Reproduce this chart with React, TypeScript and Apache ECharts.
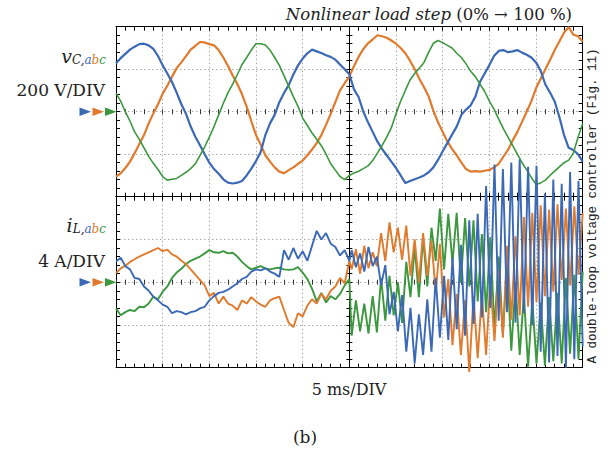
import React, { useEffect, useRef } from "react";
import * as echarts from "echarts";

// ---------- data ----------
// time grid of the voltage traces: 0 .. 50 ms, 0.5 ms steps
const V_STEP_MS = 0.5;
// capacitor voltages, V
const vCa = [228, 252, 272, 292, 306, 318, 320, 312, 296, 262, 218, 180, 140, 90, 35, -10, -70, -118, -158, -200, -240, -270, -292, -318, -334, -338, -334, -326, -300, -268, -232, -190, -110, -55, -15, 45, 88, 125, 175, 218, 250, 275, 292, 284, 276, 266, 258, 245, 222, 200, 176, 105, 68, 0, -50, -95, -140, -175, -205, -235, -265, -300, -336, -326, -318, -310, -300, -285, -262, -227, -186, -148, -108, -70, -15, 10, 30, 71, 141, 180, 220, 262, 286, 290, 280, 284, 290, 278, 268, 255, 232, 192, 128, 90, 48, -25, -110, -170, -180, -200, -235];
const vCb = [-306, -290, -265, -235, -195, -152, -110, -55, -8, 35, 85, 122, 165, 205, 232, 262, 292, 310, 328, 326, 318, 312, 290, 255, 215, 170, 130, 82, 24, -45, -110, -155, -205, -235, -262, -282, -290, -275, -262, -245, -230, -205, -178, -148, -110, -62, -10, 45, 100, 134, 165, 215, 259, 295, 322, 340, 360, 355, 348, 335, 320, 300, 275, 240, 200, 155, 115, 71, 5, -50, -95, -140, -175, -205, -240, -270, -282, -280, -282, -278, -274, -262, -245, -212, -180, -135, -95, -48, 0, 50, 110, 155, 200, 243, 290, 330, 372, 398, 362, 355, 330];
const vCc = [86, 50, 0, -45, -95, -130, -170, -210, -243, -272, -305, -322, -318, -314, -300, -285, -268, -245, -205, -165, -120, -70, -15, 40, 90, 130, 175, 222, 255, 290, 320, 320, 314, 290, 255, 218, 170, 120, 71, 25, -30, -65, -100, -130, -160, -200, -245, -275, -305, -320, -300, -288, -280, -268, -255, -230, -195, -160, -120, -75, -10, 50, 100, 149, 180, 205, 232, 280, 322, 335, 325, 312, 300, 275, 255, 225, 190, 165, 130, 95, 50, 12, -35, -80, -120, -160, -200, -240, -274, -310, -342, -335, -322, -300, -280, -260, -240, -228, -195, -120, -55];

// inductor currents, A — before the load step: 0 .. 25 ms, 0.5 ms steps
const I_PRE_STEP_MS = 0.5;
const iLaPre = [1.94, 2.3, 1.5, 1.2, 0.4, 0.3, -0.4, -0.8, -1.35, -1.7, -2.1, -2.3, -2.9, -2.7, -2.8, -3.0, -2.8, -2.7, -2.45, -2.3, -1.7, -1.3, -1.0, -0.9, -0.7, -0.4, -0.1, 0.3, 0.5, 1.0, 1.2, 1.1, 1.3, 1.0, 0.8, 0.5, 3.0, 2.1, 3.2, 2.2, 2.9, 2.0, 3.4, 4.8, 4.0, 4.6, 3.6, 3.3, 2.5, 3.0, 2.0];
const iLbPre = [0.85, 1.3, 1.55, 1.9, 2.15, 2.4, 2.6, 2.8, 3.0, 3.2, 2.9, 3.05, 2.6, 2.4, 2.0, 1.7, 1.2, 0.7, 0.2, -0.3, -1.3, -1.0, -2.0, -1.35, -2.0, -2.2, -2.6, -1.7, -2.0, -1.4, -1.8, -2.1, -2.3, -1.7, -1.5, -1.35, -2.6, -3.8, -4.2, -2.9, -3.2, -2.2, -1.6, -2.0, -1.1, -1.6, -0.8, -0.4, 0.4, -0.1, 2.0];
const iLcPre = [-2.45, -3.1, -2.8, -2.6, -2.7, -2.3, -2.35, -2.0, -1.35, -1.6, -0.9, -0.4, 0.4, 0.9, 1.25, 1.7, 2.0, 2.2, 2.4, 2.7, 3.0, 2.8, 2.75, 2.9, 2.7, 2.75, 2.4, 1.9, 1.5, 1.2, 1.35, 1.5, 1.3, 1.2, 1.3, 1.35, 1.2, 1.15, 1.2, 1.4, 0.9, 0.3, -0.6, -1.8, -1.0, -1.9, -1.3, -1.6, -1.1, -0.3, 0.3];

// after the load step: peaks/troughs every 0.45 ms from 25.25 ms
const I_POST_START_MS = 25.25;
const I_POST_STEP_MS = 0.45;
const iLaPost = [3.0, 1.4, 2.7, 1.0, 3.3, 1.5, 2.4, -0.3, 1.6, -3.0, -0.9, -4.6, -1.2, -6.5, -2.4, -7.6, -3.0, -6.8, -1.6, -6.5, 0.4, -5.2, 0.6, -5.4, 2.3, -4.4, 3.5, -5.0, 5.8, -3.9, 6.4, -3.3, 9.0, -2.4, 11.0, -3.6, 10.6, -2.8, 11.2, -3.8, 11.5, -2.9, 10.8, -4.0, 10.9, -6.5, 8.3, -7.5, 9.6, -6.9, 9.2, -8.0, 10.3, -7.2, 9.5, -6.0];
const iLbPost = [1.2, 3.1, 0.8, 3.4, 1.3, 2.8, 1.5, 4.6, 2.0, 5.6, 2.8, 5.1, 2.1, 5.3, 0.6, 4.0, 0.0, 4.6, 0.6, 3.9, -1.0, 3.6, -3.3, 0.3, -5.9, -1.1, -6.8, -1.7, -8.4, -1.3, -7.1, -1.2, -6.8, 0.2, -5.5, 1.1, -5.2, 3.4, -3.5, 4.3, -3.1, 6.1, -2.3, 6.5, -1.9, 7.2, -1.3, 6.8, -0.9, 7.3, 0.2, 6.9, -0.3, 7.1, 0.7, 6.5];
const iLcPost = [-5.0, -1.7, -4.6, -2.0, -4.8, -1.3, -4.7, 0.4, -3.6, 0.6, -3.1, 0.0, -3.8, 1.9, -1.4, 3.3, -1.4, 4.2, -0.4, 5.1, 2.0, 6.9, 1.2, 6.4, 1.8, 6.5, 0.0, 6.0, -0.4, 5.8, -1.8, 4.5, -2.8, 4.2, -4.4, 2.4, -4.9, 1.7, -6.4, 0.0, -6.8, -1.2, -7.9, -1.7, -7.6, -1.9, -7.8, -1.4, -7.4, -1.0, -7.6, 0.4, -6.7, 0.7, -7.2, 1.0];

// axis settings (oscilloscope screen: 10 x 4 divisions per panel)
const T_MIN = 0, T_MAX = 50, T_DIV = 5;
const V_MIN = -400, V_MAX = 400, V_DIV = 200;
const I_MIN = -8, I_MAX = 8, I_DIV = 4;

const C_A = "#3b69b6";
const C_B = "#e07a2c";
const C_C = "#3c983f";

// ---------- helpers ----------
const uniform = (vals: number[], t0: number, dt: number) =>
  vals.map((v, k) => [+(t0 + k * dt).toFixed(3), v]);

const LEFT = 116, PW = 466.7;
const TOP0 = 26.7, PH0 = 170;
const TOP1 = 196.7, PH1 = 171;

const tickLine = { color: "#000", width: 1 };
const centerTick = { color: "#333", width: 1 };
const dotted = { color: "#a9a9a9", width: 1, type: [1.5, 2.5] as any };

function xAxesFor(g: number, ph: number) {
  const base: any = {
    gridIndex: g, type: "value", min: T_MIN, max: T_MAX, interval: T_DIV,
    axisLabel: { show: false }, splitLine: { show: false },
    axisLine: { show: true, onZero: false, lineStyle: { color: "#000", width: 1 } },
    axisTick: { show: true, inside: true, length: 4, lineStyle: tickLine },
    minorTick: { show: true, splitNumber: 5, length: 4, lineStyle: tickLine },
    splitArea: { show: false },
  };
  return [
    { ...base, position: "bottom", splitLine: { show: true, lineStyle: dotted } },
    { ...base, position: "top" },
    { ...base, position: "bottom", offset: -ph / 2, axisLine: { show: false, onZero: false },
      axisTick: { show: true, inside: true, length: 2.5, lineStyle: centerTick },
      minorTick: { show: true, splitNumber: 5, length: 2.5, lineStyle: centerTick } },
    { ...base, position: "bottom", offset: -ph / 2, axisLine: { show: false, onZero: false },
      axisTick: { show: true, inside: false, length: 2.5, lineStyle: centerTick },
      minorTick: { show: true, splitNumber: 5, length: 2.5, lineStyle: centerTick } },
  ];
}

function yAxesFor(g: number, min: number, max: number, interval: number) {
  const base: any = {
    gridIndex: g, type: "value", min, max, interval,
    axisLabel: { show: false }, splitLine: { show: false },
    axisLine: { show: true, onZero: false, lineStyle: { color: "#000", width: 1 } },
    axisTick: { show: true, inside: true, length: 4, lineStyle: tickLine },
    minorTick: { show: true, splitNumber: 5, length: 4, lineStyle: tickLine },
  };
  return [
    { ...base, position: "left", splitLine: { show: true, lineStyle: dotted } },
    { ...base, position: "right" },
    { ...base, position: "left", offset: -PW / 2,
      axisTick: { show: true, inside: true, length: 3, lineStyle: tickLine },
      minorTick: { show: true, splitNumber: 5, length: 3, lineStyle: tickLine } },
    { ...base, position: "left", offset: -PW / 2, axisLine: { show: false, onZero: false },
      axisTick: { show: true, inside: false, length: 3, lineStyle: tickLine },
      minorTick: { show: true, splitNumber: 5, length: 3, lineStyle: tickLine } },
  ];
}

const SERIF = "DejaVu Serif";

function arrows(y: number) {
  const cols = [C_A, C_B, C_C];
  const xs = [79.5, 92.5, 105];
  return cols.map((c, k) => ({
    type: "polygon",
    shape: { points: [[xs[k], y - 4.3], [xs[k] + 11.5, y], [xs[k], y + 4.3]] },
    style: { fill: c },
    silent: true,
  }));
}

function varLabel(main: string, sub: string, x: number, y: number) {
  const it = { fontFamily: SERIF, fontStyle: "italic" };
  return {
    type: "text", x, y, silent: true,
    style: {
      text: `{m|${main}}{s|${sub},}{a|a}{b|b}{c|c}`,
      textAlign: "right", textVerticalAlign: "middle",
      rich: {
        m: { ...it, fontSize: 19, lineHeight: 20, fill: "#222", color: "#222" },
        s: { ...it, fontSize: 12, lineHeight: 12, verticalAlign: "bottom", fill: "#222", color: "#222" },
        a: { ...it, fontSize: 12, lineHeight: 12, verticalAlign: "bottom", fill: C_A, color: C_A },
        b: { ...it, fontSize: 12, lineHeight: 12, verticalAlign: "bottom", fill: C_B, color: C_B },
        c: { ...it, fontSize: 12, lineHeight: 12, verticalAlign: "bottom", fill: C_C, color: C_C },
      },
    },
  };
}

function plainText(text: string, x: number, y: number, align: string, size = 17) {
  return {
    type: "text", x, y, silent: true,
    style: { text, fontFamily: SERIF, fontSize: size, fill: "#222", textAlign: align, textVerticalAlign: "middle" },
  };
}

export default function App() {
  const ref = useRef<HTMLDivElement>(null);
  useEffect(() => {
    if (!ref.current) return;
    const chart = echarts.init(ref.current, undefined, { renderer: "svg" });

    const volt = (name: string, vals: number[], color: string, width: number, z: number) => ({
      name, type: "line", xAxisIndex: 0, yAxisIndex: 0, data: uniform(vals, T_MIN, V_STEP_MS),
      showSymbol: false, symbol: "none", color, lineStyle: { color, width }, z, silent: true,
    });
    const curr = (name: string, pre: number[], post: number[], color: string, z: number) => ({
      name, type: "line", xAxisIndex: 4, yAxisIndex: 4, clip: false,
      data: [...uniform(pre, T_MIN, I_PRE_STEP_MS), ...uniform(post, I_POST_START_MS, I_POST_STEP_MS)],
      showSymbol: false, symbol: "none", color, lineStyle: { color, width: 1.9 }, z, silent: true,
    });

    chart.setOption({
      animation: false,
      backgroundColor: "#fff",
      grid: [
        { left: LEFT, top: TOP0, width: PW, height: PH0, containLabel: false, outerBoundsMode: "none" },
        { left: LEFT, top: TOP1, width: PW, height: PH1, containLabel: false, outerBoundsMode: "none" },
      ],
      xAxis: [...xAxesFor(0, PH0), ...xAxesFor(1, PH1)],
      yAxis: [...yAxesFor(0, V_MIN, V_MAX, V_DIV), ...yAxesFor(1, I_MIN, I_MAX, I_DIV)],
      series: [
        volt("v_Ca", vCa, C_A, 2.2, 4),
        volt("v_Cb", vCb, C_B, 2.2, 3),
        volt("v_Cc", vCc, C_C, 1.6, 5),
        curr("i_Lc", iLcPre, iLcPost, C_C, 6),
        curr("i_Lb", iLbPre, iLbPost, C_B, 7),
        curr("i_La", iLaPre, iLaPost, C_A, 8),
      ],
      graphic: [
        {
          type: "text", x: 572, y: 14, silent: true,
          style: {
            text: "{i|Nonlinear load step}{r| (0% → 100 %)}",
            textAlign: "right", textVerticalAlign: "middle",
            rich: {
              i: { fontFamily: SERIF, fontStyle: "italic", fontSize: 16.5, fill: "#222", color: "#222" },
              r: { fontFamily: SERIF, fontSize: 16.5, fill: "#222", color: "#222" },
            },
          },
        },
        varLabel("v", "C", 106, 56),
        plainText("200 V/DIV", 105, 89.5, "right"),
        ...arrows(111.7),
        varLabel("i", "L", 106, 225),
        plainText("4 A/DIV", 105, 260.5, "right"),
        ...arrows(282.3),
        plainText("5 ms/DIV", 349, 389, "center", 16),
        plainText("(b)", 305, 437, "center", 17),
        {
          type: "text", x: 593, y: 206, rotation: Math.PI / 2, silent: true,
          style: {
            text: "A double-loop voltage controller (Fig. 11)",
            fontFamily: "Liberation Mono", fontSize: 12.5, fill: "#222",
            textAlign: "center", textVerticalAlign: "middle",
          },
        },
      ],
    });
    return () => chart.dispose();
  }, []);
  return (
    <div
      ref={ref}
      style={{ position: "fixed", left: 0, top: 0, width: 615, height: 452, background: "#fff" }}
    />
  );
}
